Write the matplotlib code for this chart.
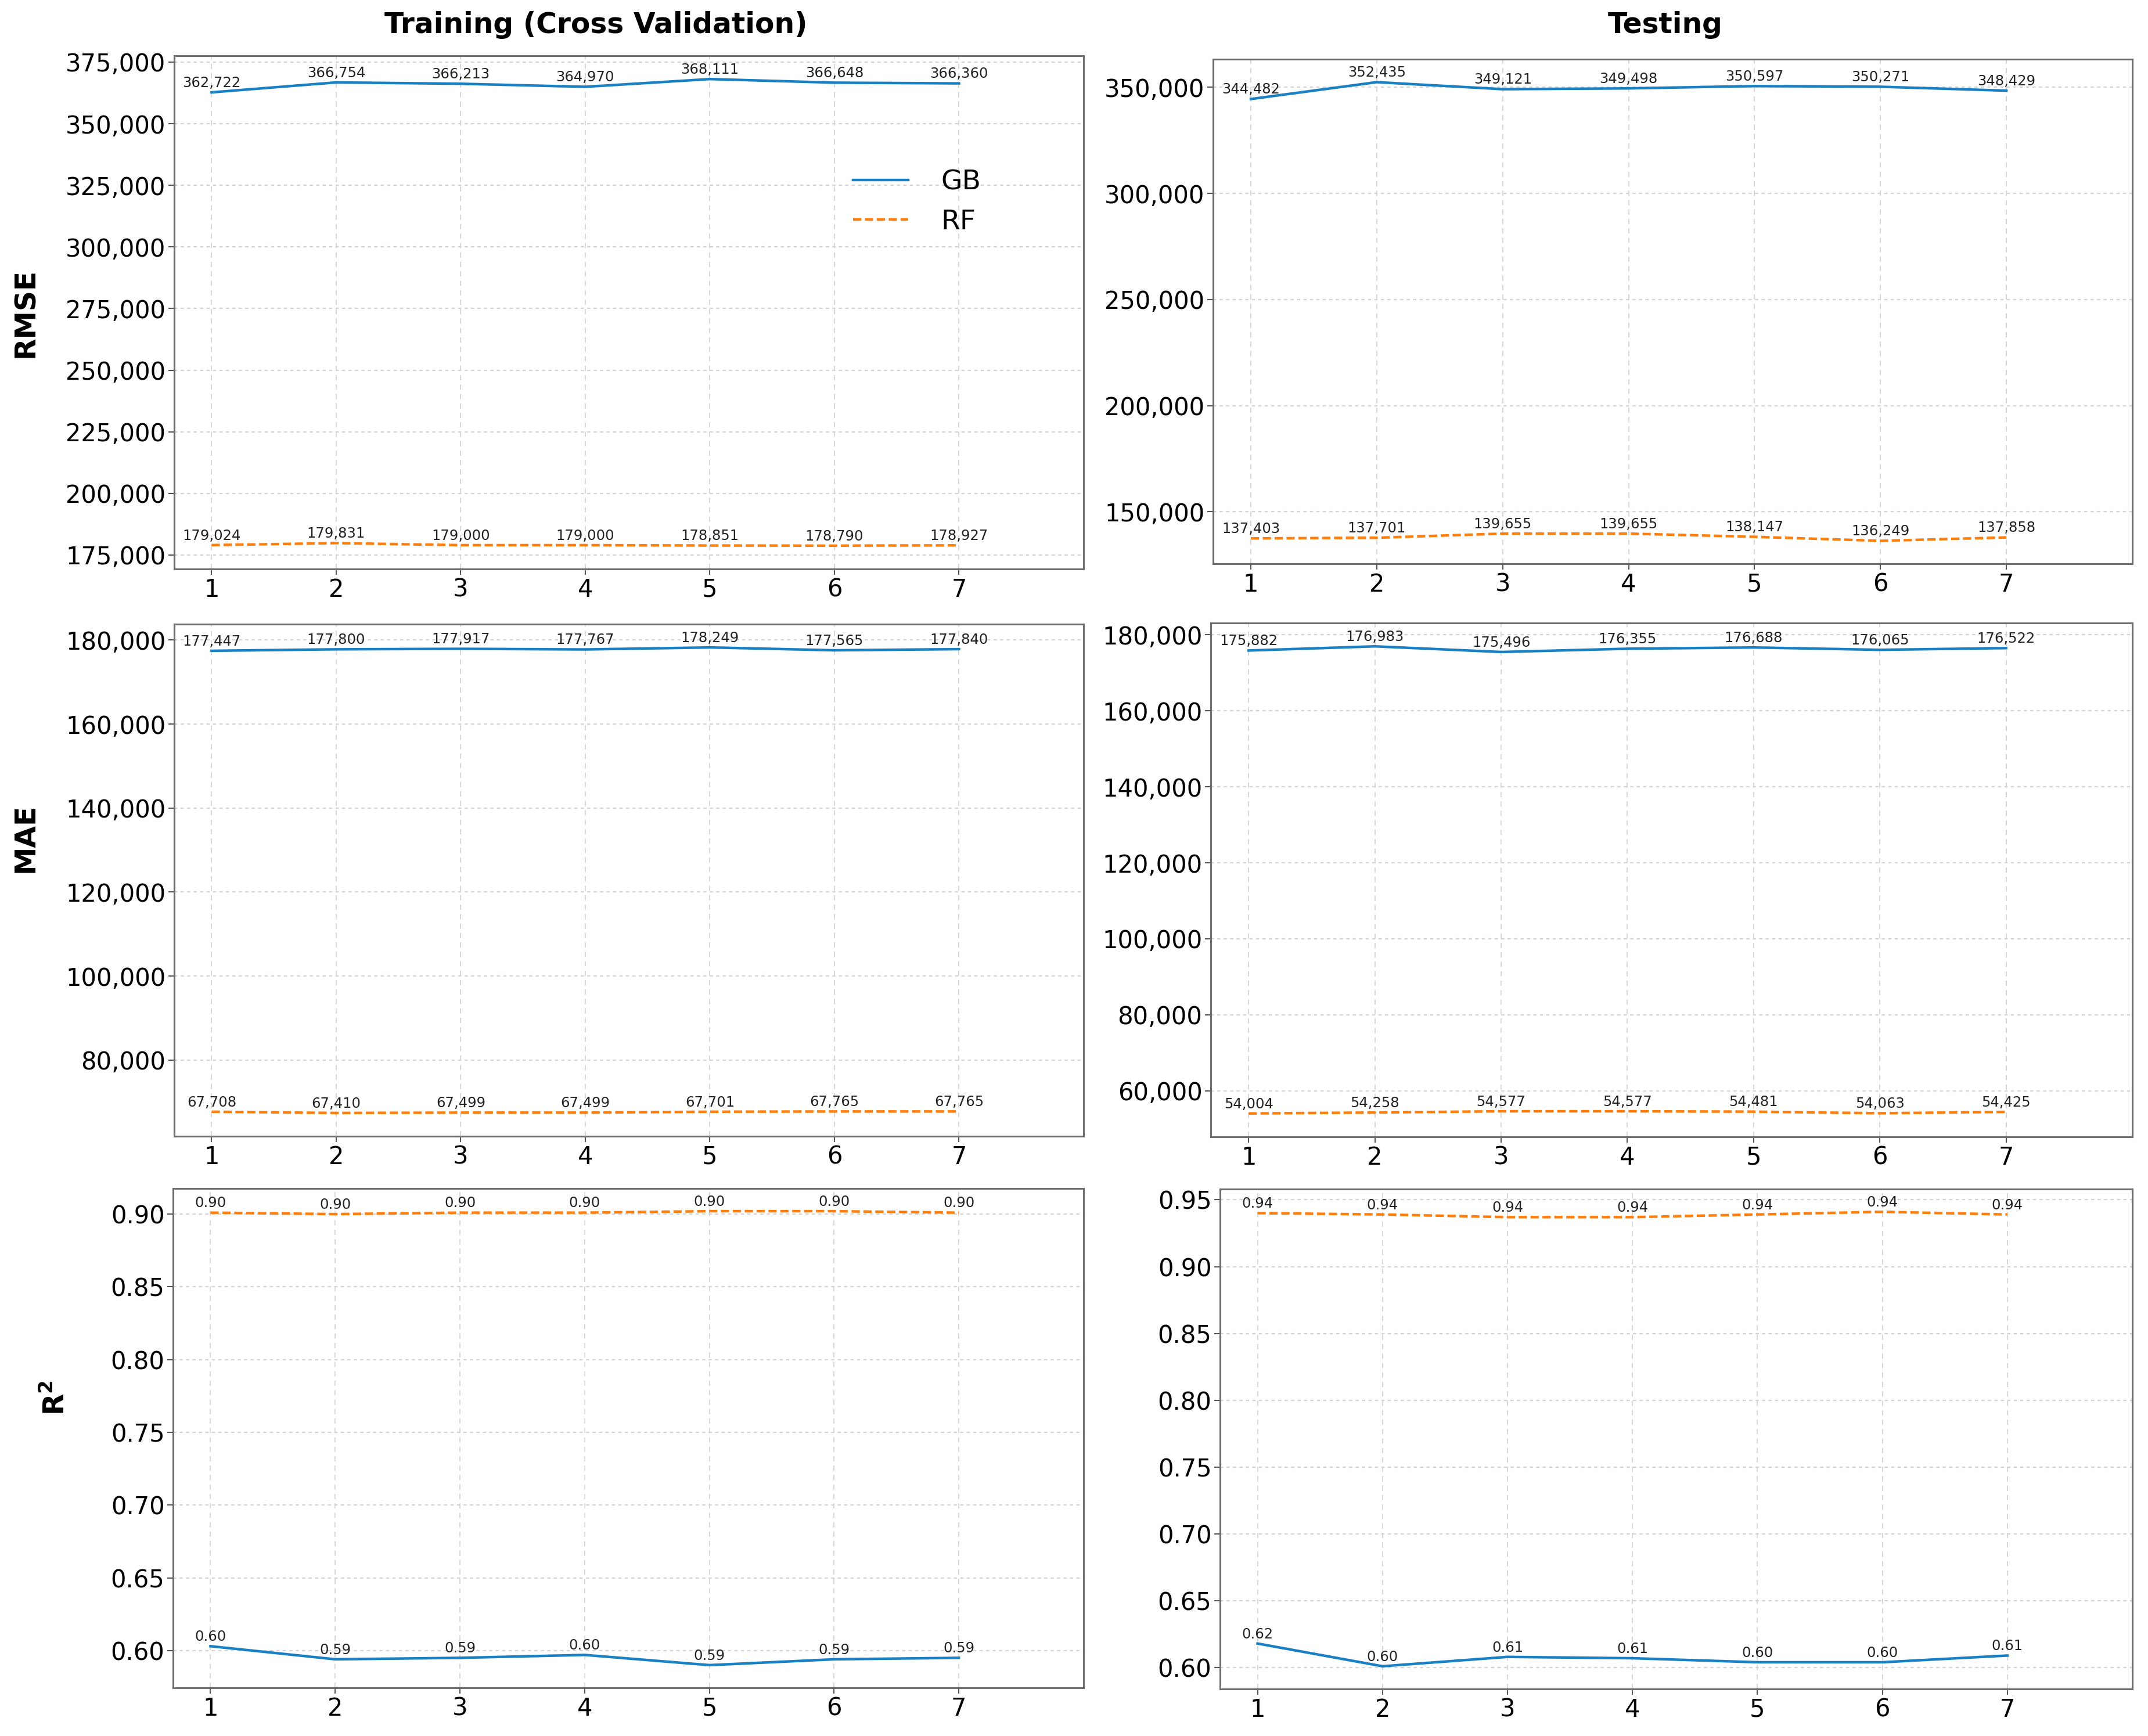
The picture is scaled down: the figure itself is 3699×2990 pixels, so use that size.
import matplotlib
matplotlib.use('Agg')
import matplotlib.pyplot as plt
import matplotlib.ticker as tck

# x positions (folds)
folds = [1, 2, 3, 4, 5, 6, 7]

# ---------- Training (Cross Validation) ----------
rmse_train_gb = [362722, 366754, 366213, 364970, 368111, 366648, 366360]
rmse_train_rf = [179024, 179831, 179000, 179000, 178851, 178790, 178927]
mae_train_gb = [177447, 177800, 177917, 177767, 178249, 177565, 177840]
mae_train_rf = [67708, 67410, 67499, 67499, 67701, 67765, 67765]
r2_train_gb = [0.603, 0.594, 0.595, 0.597, 0.590, 0.594, 0.595]
r2_train_rf = [0.901, 0.900, 0.901, 0.901, 0.902, 0.902, 0.901]

# ---------- Testing ----------
rmse_test_gb = [344482, 352435, 349121, 349498, 350597, 350271, 348429]
rmse_test_rf = [137403, 137701, 139655, 139655, 138147, 136249, 137858]
mae_test_gb = [175882, 176983, 175496, 176355, 176688, 176065, 176522]
mae_test_rf = [54004, 54258, 54577, 54577, 54481, 54063, 54425]
r2_test_gb = [0.618, 0.601, 0.608, 0.607, 0.604, 0.604, 0.609]
r2_test_rf = [0.940, 0.939, 0.937, 0.937, 0.939, 0.941, 0.939]

W, H = 3699, 2990
fig = plt.figure(figsize=(W / 100, H / 100), dpi=100)

GB_COLOR = '#1a80c4'
RF_COLOR = '#ff7f0e'


def px_axes(left, top, right, bottom):
    # axes from pixel box of the figure
    return fig.add_axes([left / W, 1 - bottom / H, (right - left) / W, (bottom - top) / H])


panels = [
    ((300, 96, 1866, 980), rmse_train_gb, rmse_train_rf, 'int'),
    ((2089, 102, 3672, 971), rmse_test_gb, rmse_test_rf, 'int'),
    ((300, 1075, 1866, 1957), mae_train_gb, mae_train_rf, 'int'),
    ((2085, 1073, 3672, 1958), mae_test_gb, mae_test_rf, 'int'),
    ((298, 2047, 1866, 2907), r2_train_gb, r2_train_rf, 'float'),
    ((2101, 2048, 3672, 2909), r2_test_gb, r2_test_rf, 'float'),
]

axes = []
for box, gb, rf, kind in panels:
    ax = px_axes(*box)
    ax.plot(folds, gb, color=GB_COLOR, linestyle='-', linewidth=3.2, label='GB')
    ax.plot(folds, rf, color=RF_COLOR, linestyle=(0, (3.2, 1.4)), linewidth=3.2, label='RF')

    fmt = (lambda v: f'{v:,.0f}') if kind == 'int' else (lambda v: f'{v:.2f}')
    for series in (gb, rf):
        for x, y in zip(folds, series):
            ax.annotate(fmt(y), (x, y), xytext=(0, 3), textcoords='offset points',
                        ha='center', va='bottom', fontsize=17.5, color='#222222')

    if kind == 'int':
        ax.yaxis.set_major_formatter(tck.FuncFormatter(lambda v, p: f'{v:,.0f}'))
    else:
        ax.yaxis.set_major_formatter(tck.FuncFormatter(lambda v, p: f'{v:.2f}'))

    ax.set_xlim(0.7, 8.0)
    ax.set_xticks(folds)
    ax.xaxis.grid(True, color='#d4d4d4', linestyle=(0, (5, 4)), linewidth=1.3)
    ax.yaxis.grid(True, color='#d4d4d4', linestyle=(0, (2.5, 2.5)), linewidth=1.6)
    ax.set_axisbelow(True)
    ax.tick_params(labelsize=30, length=7, width=1.5, color='#555555')
    for s in ax.spines.values():
        s.set_color('#6e6e6e')
        s.set_linewidth(2.2)
    axes.append(ax)

axes[0].legend(loc='center', bbox_to_anchor=(0.817, 0.715), frameon=False,
               fontsize=34, handlelength=2.0, handletextpad=1.2)

# column titles
fig.text(1026 / W, 1 - 43 / H, 'Training (Cross Validation)', ha='center', va='center',
         fontsize=35, fontweight='bold')
fig.text(2868 / W, 1 - 43 / H, 'Testing', ha='center', va='center',
         fontsize=35, fontweight='bold')

# row labels
fig.text(44 / W, 1 - 539 / H, 'RMSE', rotation=90, ha='center', va='center',
         fontsize=35, fontweight='bold')
fig.text(44 / W, 1 - 1443 / H, 'MAE', rotation=90, ha='center', va='center',
         fontsize=35, fontweight='bold')
fig.text(97 / W, 1 - 2408 / H, r'$\mathbf{R^2}$', rotation=90, ha='center', va='center',
         fontsize=35)

fig.savefig('out.png', dpi=100)
